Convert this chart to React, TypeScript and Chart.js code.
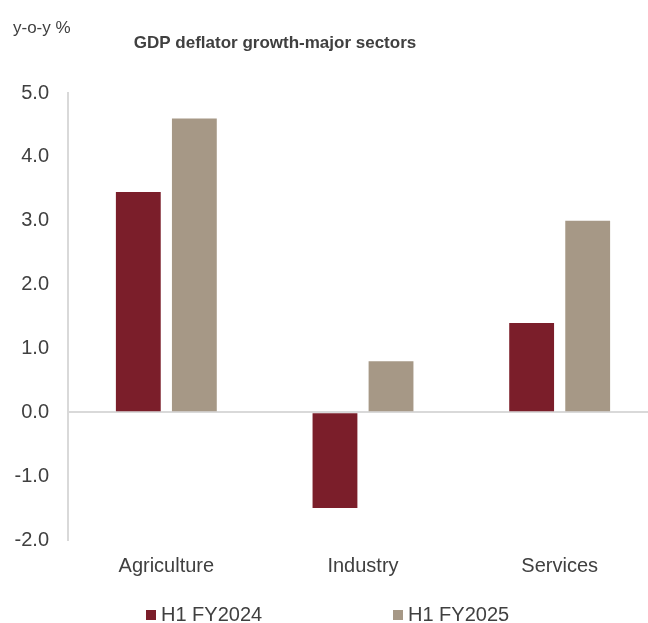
import React, { useEffect, useRef } from "react";
import { Chart, registerables } from "chart.js";

Chart.register(...registerables);

const categories = ["Agriculture", "Industry", "Services"];
const seriesNames = ["H1 FY2024", "H1 FY2025"];
const h1FY2024 = [3.45, -1.5, 1.4];
const h1FY2025 = [4.6, 0.8, 3.0];
const yTicks = [5, 4, 3, 2, 1, 0, -1, -2];
const colors = ["#7b1e2a", "#a69886"];
const titleText = "GDP deflator growth-major sectors";
const unitText = "y-o-y %";

const FONT = "'Liberation Sans', Arial, sans-serif";
const TEXT = "#404040";

const overlay = {
  id: "overlay",
  afterDraw(chart: any) {
    const ctx = chart.ctx;
    ctx.save();
    ctx.fillStyle = TEXT;
    ctx.textBaseline = "middle";
    ctx.font = `17px ${FONT}`;
    ctx.textAlign = "left";
    ctx.fillText(unitText, 13, 28);
    ctx.font = `bold 17px ${FONT}`;
    ctx.textAlign = "center";
    ctx.fillText(titleText, 275, 43);
    // legend
    const xs = [146, 393];
    ctx.font = `20px ${FONT}`;
    ctx.textAlign = "left";
    chart.data.datasets.forEach((ds: any, i: number) => {
      ctx.fillStyle = ds.backgroundColor;
      ctx.fillRect(xs[i], 610, 10, 10);
      ctx.fillStyle = TEXT;
      ctx.fillText(ds.label, xs[i] + 15, 615);
    });
    ctx.restore();
  },
};

export default function App() {
  const ref = useRef<HTMLCanvasElement>(null);
  useEffect(() => {
    if (!ref.current) return;
    const chart = new Chart(ref.current, {
      type: "bar",
      data: {
        labels: categories,
        datasets: [
          { label: seriesNames[0], data: h1FY2024, backgroundColor: colors[0] },
          { label: seriesNames[1], data: h1FY2025, backgroundColor: colors[1] },
        ],
      },
      options: {
        animation: false,
        responsive: false,
        maintainAspectRatio: false,
        layout: { padding: { top: 93, right: 2, left: 0, bottom: 0 } },
        plugins: { legend: { display: false }, title: { display: false }, tooltip: { enabled: false } },
        datasets: { bar: { categoryPercentage: 0.57, barPercentage: 0.8 } },
        scales: {
          x: {
            grid: { display: false, drawTicks: false },
            border: { display: false },
            ticks: { color: TEXT, font: { family: FONT, size: 20 }, padding: 14, maxRotation: 0 },
            afterFit: (s: any) => { s.height = 83; },
          },
          y: {
            min: -2,
            max: 5,
            afterBuildTicks: (s: any) => { s.ticks = yTicks.map((v) => ({ value: v })); },
            grid: {
              drawTicks: false,
              color: (c: any) => (c.tick && c.tick.value === 0 ? "#d9d9d9" : "rgba(0,0,0,0)"),
              lineWidth: 2,
            },
            border: { display: true, color: "#d9d9d9", width: 2 },
            ticks: {
              color: TEXT,
              font: { family: FONT, size: 20 },
              padding: 19,
              callback: (v: any) => Number(v).toFixed(1),
            },
            afterFit: (s: any) => { s.width = 68; },
          },
        },
      },
      plugins: [overlay],
    });
    return () => chart.destroy();
  }, []);
  return (
    <div style={{ position: "absolute", left: 0, top: 0, width: 648, height: 623, overflow: "hidden", background: "#fff" }}>
      <canvas ref={ref} width={660} height={623} style={{ display: "block" }} />
    </div>
  );
}
